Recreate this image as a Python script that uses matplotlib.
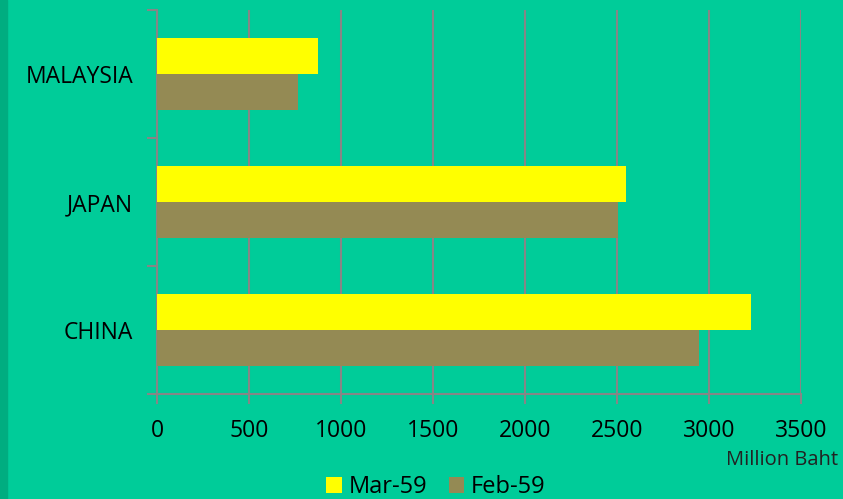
import numpy as np
import matplotlib.pyplot as plt

countries = ["CHINA", "JAPAN", "MALAYSIA"]
mar_59 = [3228, 2549, 875]
feb_59 = [2946, 2505, 766]
x_ticks = [0, 500, 1000, 1500, 2000, 2500, 3000, 3500]

bg = "#00CC99"
grid_c = "#868686"

fig = plt.figure(figsize=(8.43, 4.99), dpi=100, facecolor=bg)
# darker strip on the left edge
fig.patches.append(plt.Rectangle((0, 0), 7 / 843, 1, transform=fig.transFigure,
                                 color="#00AD80", zorder=0))
ax = fig.add_axes([157 / 843, 1 - 394 / 499, 644 / 843, 384 / 499])
ax.set_facecolor(bg)

y = np.arange(len(countries))
h = 0.285
ax.barh(y + h / 2, mar_59, height=h, color="#FFFF00", label="Mar-59", zorder=3)
ax.barh(y - h / 2, feb_59, height=h, color="#948A54", label="Feb-59", zorder=3)

ax.set_xlim(0, 3500)
ax.set_ylim(-0.5, len(countries) - 0.5)
ax.set_xticks(x_ticks)
ax.set_xticklabels([str(v) for v in x_ticks])
ax.set_yticks(y)
ax.set_yticklabels(countries)
ax.set_yticks(np.arange(len(countries) + 1) - 0.5, minor=True)
ax.tick_params(axis="y", which="major", length=0, pad=17, labelsize=16.5)
ax.tick_params(axis="y", which="minor", length=7, color=grid_c, width=1.5)
ax.tick_params(axis="x", length=7, color=grid_c, width=1.5, labelsize=16.5, pad=11)
for lbl in ax.get_xticklabels() + ax.get_yticklabels():
    lbl.set_fontfamily("Open Sans")

ax.grid(axis="x", color=grid_c, linewidth=1.5, zorder=0)
for s in ["top", "right"]:
    ax.spines[s].set_visible(False)
for s in ["left", "bottom"]:
    ax.spines[s].set_color(grid_c)
    ax.spines[s].set_linewidth(1.5)

fig.text(838 / 843, 1 - 460 / 499, "Million Baht", ha="right", va="center",
         fontsize=14.5, family="Open Sans", color="#222222")

handles, labels = ax.get_legend_handles_labels()
fig.legend(handles, labels, loc="center", bbox_to_anchor=(436 / 843, 1 - 487 / 499),
           ncol=2, frameon=False, prop={"family": "Open Sans", "size": 17},
           handlelength=0.65, handleheight=0.65, handletextpad=0.3, columnspacing=0.9,
           borderaxespad=0)

fig.savefig("out.png", dpi=100, facecolor=bg)
